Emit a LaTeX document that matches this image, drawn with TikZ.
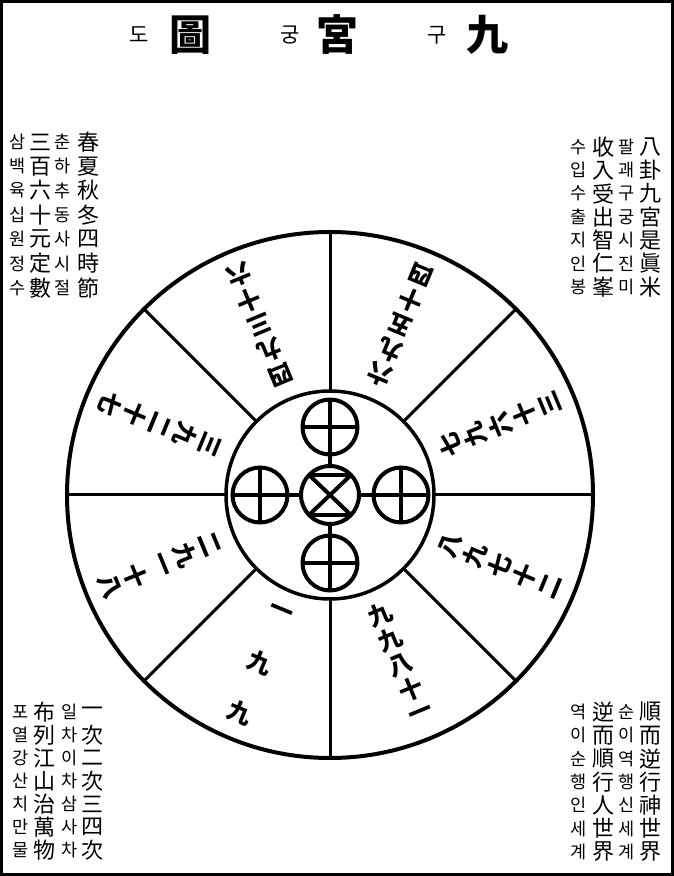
\documentclass[tikz,border=0pt]{standalone}
\usepackage{fontspec}
\newfontfamily\cjk{Noto Sans CJK KR}
\usetikzlibrary{calc}
\newcommand\vtxt[6]{%
  \foreach \ch [count=\i from 0] in {#6}
    \node[#5, name=#1\i] at (#2,{876-#3-\i*#4}) {\ch};}
\begin{document}
\begin{tikzpicture}[x=1pt,y=1pt,
  hz/.style={font=\cjk\fontsize{22}{22}\selectfont, inner sep=0pt},
  hg/.style={font=\cjk\fontsize{17.5}{17.5}\selectfont, inner sep=0pt},
  sec/.style={font=\cjk\bfseries\fontsize{24}{24}\selectfont, inner sep=0pt},
  ttlh/.style={font=\cjk\bfseries\fontsize{42}{42}\selectfont, inner sep=0pt},
  ttlg/.style={font=\cjk\fontsize{21}{21}\selectfont, inner sep=0pt},
  thick4/.style={line width=4pt},
  spoke/.style={line width=3pt},
  sym/.style={line width=4pt}]
\useasboundingbox (0,0) rectangle (674,876);
\draw[line width=3pt] (1.5,1.5) rectangle (672.5,874.5);
% title
\node[ttlg] (t1) at (139,841) {도};
\node[ttlh] (t2) at (190,841) {圖};
\node[ttlg] (t3) at (290,841) {궁};
\node[ttlh] (t4) at (337,841) {宮};
\node[ttlg] (t5) at (437,841) {구};
\node[ttlh] (t6) at (487,841) {九};
% corner texts
\vtxt{tla}{88}{142}{24.3}{hz}{春,夏,秋,冬,四,時,節}
\vtxt{tlb}{63}{142}{24.3}{hg}{춘,하,추,동,사,시,절}
\vtxt{tlc}{40}{142}{24.3}{hz}{三,百,六,十,元,定,數}
\vtxt{tld}{18}{142}{24.3}{hg}{삼,백,육,십,원,정,수}
\vtxt{tra}{650}{147}{23.3}{hz}{八,卦,九,宮,是,眞,米}
\vtxt{trb}{627}{147}{23.3}{hg}{팔,괘,구,궁,시,진,미}
\vtxt{trc}{603}{147}{23.3}{hz}{收,入,受,出,智,仁,峯}
\vtxt{trd}{579}{147}{23.3}{hg}{수,입,수,출,지,인,봉}
\vtxt{bla}{92}{712}{23}{hz}{一,次,二,次,三,四,次}
\vtxt{blb}{70}{712}{23}{hg}{일,차,이,차,삼,사,차}
\vtxt{blc}{44}{712}{23}{hz}{布,列,江,山,治,萬,物}
\vtxt{bld}{21}{712}{23}{hg}{포,열,강,산,치,만,물}
\vtxt{bra}{650}{712}{23.3}{hz}{順,而,逆,行,神,世,界}
\vtxt{brb}{627}{712}{23.3}{hg}{순,이,역,행,신,세,계}
\vtxt{brc}{603}{712}{23.3}{hz}{逆,而,順,行,人,世,界}
\vtxt{brd}{579}{712}{23.3}{hg}{역,이,순,행,인,세,계}
% wheel
\coordinate (O) at (330,381);
\draw[thick4] (O) circle (263);
\draw[line width=3.5pt] (O) circle (104);
\foreach \a in {0,45,...,315}
  \draw[spoke] ($(O)+(\a:104)$) -- ($(O)+(\a:263)$);
% centre symbols
\foreach \dx/\dy [count=\k] in {0/68,0/-68,-70/0,71/0} {
  \coordinate (c\k) at ($(O)+(\dx,\dy)$);
  \draw[sym] (c\k) circle (27.5);
  \draw[sym] ($(c\k)+(-27.5,0)$) -- ($(c\k)+(27.5,0)$);
  \draw[sym] ($(c\k)+(0,-27.5)$) -- ($(c\k)+(0,27.5)$);
}
\draw[sym] (O) circle (29);
\draw[sym] ($(O)+(-21,20)$) -- ($(O)+(21,20)$);
\draw[sym] ($(O)+(-21,-20)$) -- ($(O)+(21,-20)$);
\draw[sym] ($(O)+(-21,-20)$) -- ($(O)+(21,20)$);
\draw[sym] ($(O)+(-21,20)$) -- ($(O)+(21,-20)$);
% short links between the centre circle and the four others
\draw[sym] ($(O)+(0,29)$) -- ($(c1)+(0,-27.5)$);
\draw[sym] ($(O)+(0,-29)$) -- ($(c2)+(0,27.5)$);
\draw[sym] ($(O)+(-29,0)$) -- ($(c3)+(27.5,0)$);
\draw[sym] ($(O)+(29,0)$) -- ($(c4)+(-27.5,0)$);
% sector texts
\foreach \ang/\txt [count=\k] in {112.5/{四,九,三,十,六}, 67.5/{六,九,五,十,四},
    157.5/{三,九,二,十,七}, 22.5/{七,九,六,十,三}, 202.5/{二,九,一,十,八},
    337.5/{八,九,七,十,二}, 292.5/{九,九,八,十,一}}
  \foreach \ch [count=\i from 0] in \txt
    \node[sec, rotate=\ang+90, name=s\k-\i] at ($(O)+(\ang:{130+\i*27})$) {\ch};
\foreach \ch/\r [count=\i] in {一/128, 九/182, 九/236}
  \node[sec, rotate=-22.5, name=bl\i] at ($(O)+(247.5:\r)$) {\ch};
\end{tikzpicture}
\end{document}
